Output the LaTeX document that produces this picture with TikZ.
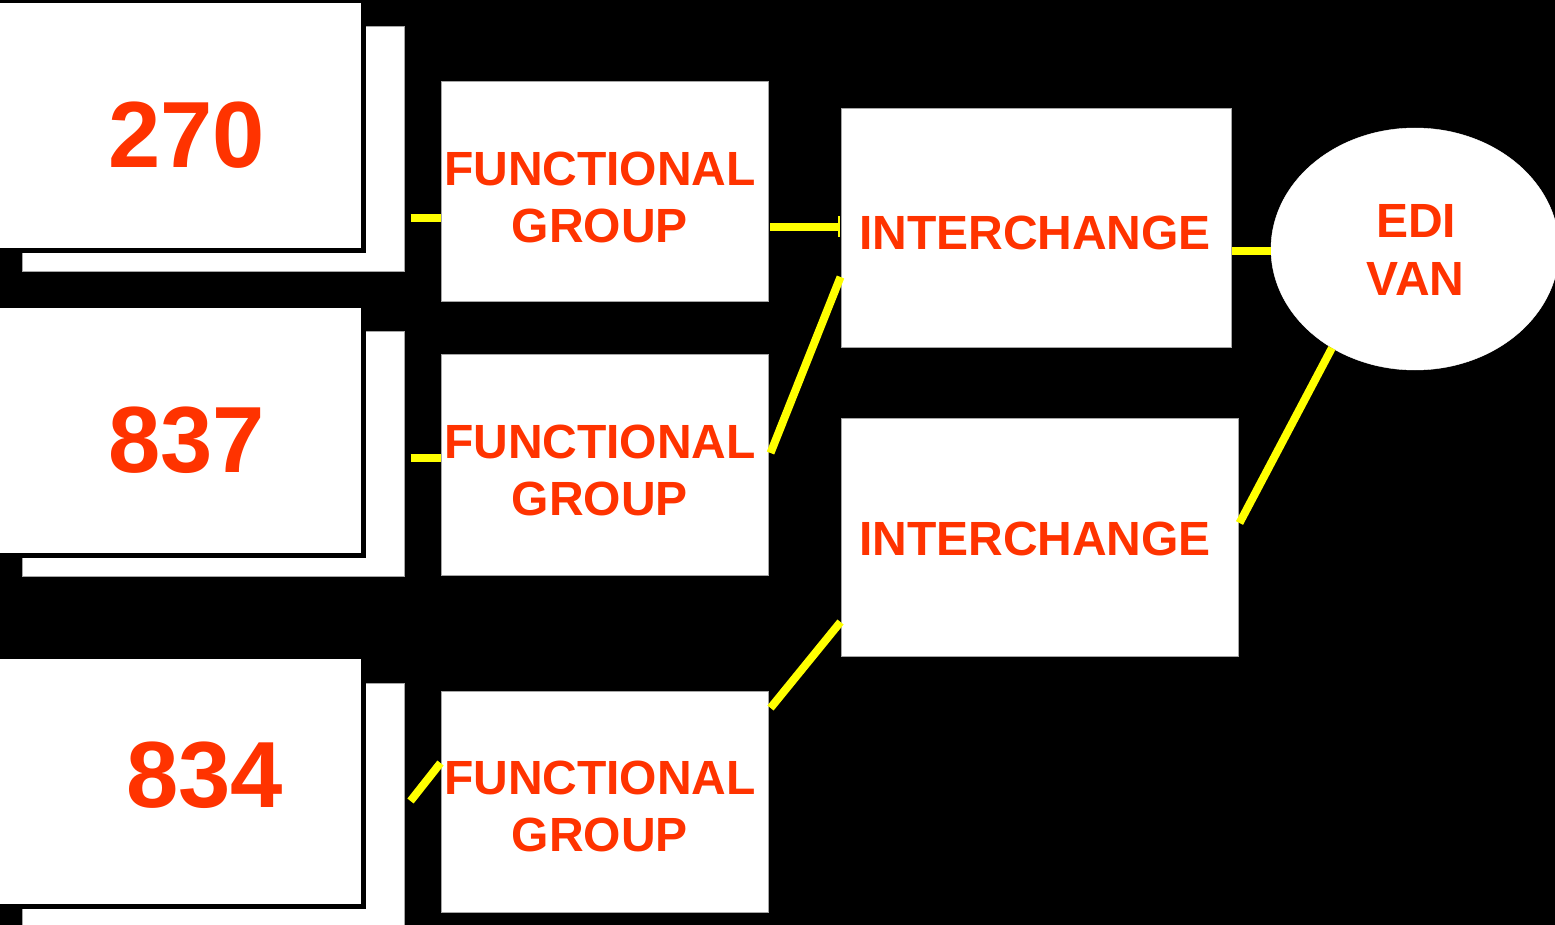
\documentclass[tikz,border=0pt]{standalone}
\usepackage{fontspec}
\setmainfont{Liberation Sans}
\usetikzlibrary{shapes.geometric,arrows.meta}
\definecolor{txtred}{RGB}{255,51,0}
\definecolor{lineyel}{RGB}{255,255,0}
\tikzset{
  backdoc/.style={draw=gray!70,line width=1pt,fill=white,inner sep=0pt,minimum width=382pt,minimum height=245pt},
  frontdoc/.style={draw=black,line width=5pt,fill=white,inner sep=0pt,minimum width=373.5pt,minimum height=250pt},
  whitebox/.style={draw=gray!70,line width=1pt,fill=white,inner sep=0pt},
  bigtxt/.style={text=txtred,font=\fontsize{94}{100}\selectfont\bfseries,anchor=base,inner sep=0pt},
  lbl/.style={text=txtred,font=\fontsize{48}{52}\selectfont\bfseries,anchor=base,inner sep=0pt},
  conn/.style={draw=lineyel,line width=8pt},
}
\begin{document}
\begin{tikzpicture}[x=1pt,y=-1pt]
\useasboundingbox (0,0) rectangle (1555,925);
\clip (0,0) rectangle (1555,925);
\fill[black] (0,0) rectangle (1555,925);
% document stacks
\node[backdoc] (back1) at (213,149.5) {};
\node[frontdoc] (doc1) at (176.75,125.5) {};
\node[backdoc] (back2) at (213,453.5) {};
\node[frontdoc] (doc2) at (176.75,430) {};
\node[backdoc,minimum height=252pt] (back3) at (213,809) {};
\node[frontdoc] (doc3) at (176.75,781.5) {};
\node[bigtxt] (t270) at (186.5,168) {270};
\node[bigtxt] (t837) at (186.5,472) {837};
\node[bigtxt] (t834) at (204.5,807) {834};
% functional groups
\node[whitebox,minimum width=327pt,minimum height=220pt] (fg1) at (604.5,192) {};
\node[whitebox,minimum width=327pt,minimum height=221pt] (fg2) at (604.5,464.5) {};
\node[whitebox,minimum width=327pt,minimum height=221pt] (fg3) at (604.5,801.5) {};
\node[lbl] (fg1a) at (600,186) {FUNCTIONAL};
\node[lbl] (fg1b) at (600,243) {GROUP};
\node[lbl] (fg2a) at (600,458) {FUNCTIONAL};
\node[lbl] (fg2b) at (600,515) {GROUP};
\node[lbl] (fg3a) at (600,794) {FUNCTIONAL};
\node[lbl] (fg3b) at (600,851) {GROUP};
% interchanges
\node[whitebox,minimum width=390pt,minimum height=238pt] (ic1) at (1036,228) {};
\node[whitebox,minimum width=397pt,minimum height=238pt] (ic2) at (1039.5,537) {};
\node[lbl] (ic1t) at (1035,250) {INTERCHANGE};
\node[lbl] (ic2t) at (1035,555) {INTERCHANGE};
% EDI VAN
\node[ellipse,fill=white,draw=white,inner sep=0pt,minimum width=288pt,minimum height=242pt] (van) at (1415,249) {};
\node[lbl] (van1) at (1416,238) {EDI};
\node[lbl] (van2) at (1415.5,296) {VAN};
% connectors
\draw[conn] ([xshift=6pt]back1.east |- 0,218) -- (fg1.west |- 0,218);
\draw[conn] ([xshift=6pt]back2.east |- 0,458) -- (fg2.west |- 0,458);
\draw[conn] ([xshift=6pt]back3.east |- 0,801) -- (fg3.west |- 0,763);
\draw[conn,-{Bar[width=21pt,line width=2pt]}] ([xshift=1.5pt]fg1.east |- 0,227) -- ([xshift=-1pt]ic1.west |- 0,227);
\draw[conn] ([xshift=2pt]fg2.east |- 0,453) -- (ic1.west |- 0,277);
\draw[conn] ([xshift=2pt]fg3.east |- 0,708) -- (ic2.west |- 0,622);
\draw[conn] (ic1.east |- 0,251) -- (van.west |- 0,251);
\draw[conn] ([xshift=1pt]ic2.east |- 0,523) -- (van.-130);
\end{tikzpicture}
\end{document}
